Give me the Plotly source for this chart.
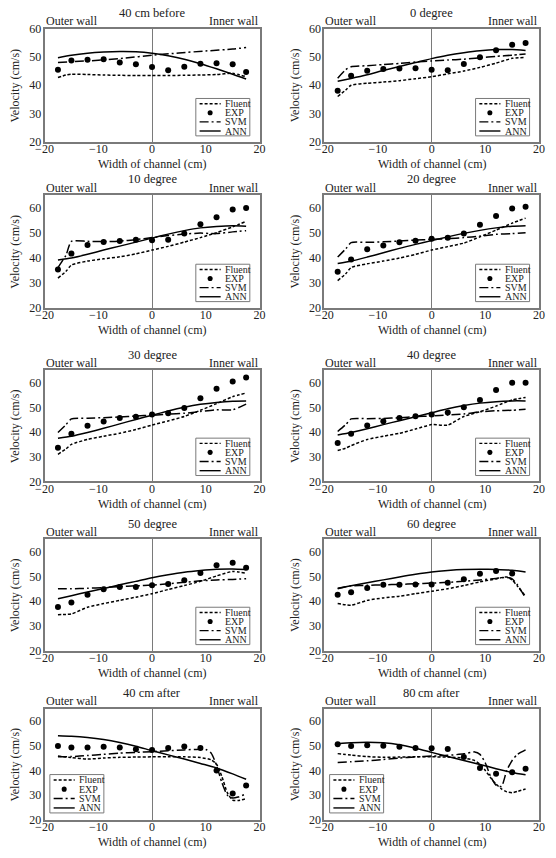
import plotly.graph_objects as go

# ---------------- data ----------------
TITLES = ["40 cm before", "0 degree", "10 degree", "20 degree", "30 degree",
          "40 degree", "50 degree", "60 degree", "40 cm after", "80\u2009cm after"]
X_TICKS = [-20, -10, 0, 10, 20]
Y_TICKS = [20, 30, 40, 50, 60]
Y_MAX = [60, 60, 65, 65, 65, 65, 65, 65, 65, 65]

EXP_X = [-17.5, -15, -12, -9, -6, -3, 0, 3, 6, 9, 12, 15, 17.5]
EXP_P1 = [45.5, 48.7, 49.0, 49.2, 48.0, 47.4, 46.4, 45.3, 46.5, 47.6, 47.8, 47.4, 44.7]
EXP_P2 = [38.0, 43.3, 45.1, 45.7, 45.9, 46.0, 45.5, 45.3, 47.5, 49.9, 52.4, 54.3, 54.9]
EXP_P3 = [35.2, 41.6, 45.0, 46.2, 46.6, 47.1, 46.9, 47.1, 49.6, 53.4, 56.2, 59.3, 59.9]
EXP_P4 = [34.3, 39.2, 43.3, 44.8, 46.1, 46.7, 47.5, 47.9, 49.6, 53.2, 56.7, 59.7, 60.4]
EXP_P5 = [33.6, 39.3, 42.5, 44.3, 45.7, 46.2, 47.1, 47.6, 49.7, 53.7, 57.5, 60.5, 62.1]
EXP_P6 = [35.6, 39.3, 42.6, 44.4, 45.7, 46.4, 47.1, 47.9, 50.0, 53.0, 57.0, 59.9, 59.9]
EXP_P7 = [37.6, 39.4, 42.6, 44.8, 45.7, 45.7, 46.4, 46.9, 48.5, 51.4, 54.5, 55.5, 53.5]
EXP_P8 = [42.6, 43.6, 45.3, 46.6, 46.6, 46.7, 46.7, 47.4, 48.9, 51.1, 52.2, 51.2, 35.9]
EXP_P9 = [49.9, 49.3, 49.3, 49.6, 49.3, 48.6, 48.3, 49.1, 49.7, 49.1, 40.0, 30.7, 33.9]
EXP_P10 = [50.6, 49.9, 50.2, 50.0, 49.6, 49.1, 49.0, 48.7, 45.4, 41.0, 38.6, 39.3, 40.7]

LX_A = [-17.5, -16, -15, -12, -9, -6, -3, 0, 3, 6, 9, 12, 15, 17.5]
LX_B = [-17.5, -15, -12, -9, -6, -3, 0, 3, 6, 9, 12, 15, 17.5]

FLU_P1 = [42.7, 43.6, 43.9, 43.8, 43.6, 43.5, 43.4, 43.4, 43.4, 43.5, 43.6, 43.8, 44.2, 43.0]
SVM_X_P1 = [-17.5, -15, -10, -5, 0, 5, 10, 15, 17.5]
SVM_P1 = [48.0, 48.3, 48.8, 49.6, 50.6, 51.4, 52.1, 52.8, 53.3]
ANN_P1 = [49.7, 50.6, 51.3, 51.7, 51.9, 51.8, 51.3, 50.4, 49.2, 47.6, 45.8, 43.9, 42.2]

FLU_P2 = [36.0, 38.3, 40.0, 40.7, 41.1, 41.6, 42.3, 43.0, 44.0, 45.0, 46.3, 47.8, 49.5, 49.8]
SVM_P2 = [42.5, 45.5, 46.5, 46.9, 47.3, 47.7, 48.2, 48.6, 48.9, 49.2, 49.7, 50.2, 50.6, 51.0]
ANN_P2 = [41.4, 42.4, 43.7, 45.2, 46.6, 48.0, 49.4, 50.6, 51.5, 52.2, 52.6, 52.6, 52.3]

FLU_P3 = [31.8, 34.5, 37.0, 38.6, 39.5, 40.3, 41.5, 43.0, 44.5, 46.2, 48.0, 50.0, 52.3, 54.5]
SVM_P3 = [36.0, 41.0, 46.5, 46.5, 46.4, 46.6, 47.2, 48.0, 48.8, 49.4, 49.8, 49.6, 50.3, 50.8]
ANN_P3 = [39.0, 39.8, 41.3, 43.0, 44.6, 46.2, 47.8, 49.4, 50.8, 51.9, 52.5, 52.8, 52.6]

FLU_P4 = [30.8, 33.5, 36.0, 37.5, 38.6, 39.8, 41.3, 43.0, 44.4, 45.8, 48.3, 51.0, 53.8, 55.8]
SVM_P4 = [40.2, 43.5, 46.0, 46.1, 46.3, 46.6, 47.0, 47.3, 47.6, 48.0, 48.6, 49.3, 49.6, 50.0]
ANN_P4 = [37.6, 38.6, 40.2, 41.9, 43.7, 45.3, 46.8, 48.3, 49.7, 50.9, 51.9, 52.6, 52.8]

FLU_P5 = [31.0, 33.2, 35.0, 37.0, 38.3, 39.5, 41.0, 42.8, 44.5, 46.3, 48.8, 51.5, 54.3, 55.8]
SVM_P5 = [39.8, 43.0, 45.3, 45.6, 45.8, 46.1, 46.5, 46.8, 47.2, 47.6, 48.3, 49.0, 49.0, 51.3]
ANN_P5 = [37.5, 38.3, 39.8, 41.5, 43.3, 45.1, 46.8, 48.5, 50.0, 51.2, 52.0, 52.5, 52.6]

FLU_P6 = [32.5, 33.5, 34.5, 37.0, 38.3, 39.5, 41.2, 43.0, 42.8, 46.3, 48.2, 50.5, 53.0, 54.0]
SVM_P6 = [40.2, 43.0, 45.3, 45.4, 45.5, 45.8, 46.2, 46.5, 46.9, 47.3, 48.2, 48.6, 48.8, 49.2]
ANN_P6 = [38.8, 39.8, 41.3, 43.0, 44.6, 46.2, 47.8, 49.4, 50.7, 51.7, 52.3, 52.6, 52.6]

FLU_P7 = [34.5, 34.6, 34.8, 37.5, 39.0, 40.3, 41.6, 43.0, 44.7, 46.3, 48.0, 50.2, 52.0, 51.3]
SVM_P7 = [45.0, 45.0, 45.0, 45.2, 45.5, 45.9, 46.2, 46.5, 47.0, 47.6, 48.2, 48.6, 48.8, 49.1]
ANN_P7 = [41.0, 42.2, 43.7, 45.1, 46.6, 48.0, 49.5, 50.7, 51.7, 52.4, 52.9, 53.0, 52.8]

LX_P8 = [-17.5, -16, -15, -12, -9, -6, -3, 0, 3, 6, 9, 12, 14, 15, 16, 17.5]
FLU_P8 = [39.0, 38.5, 38.3, 40.3, 41.3, 42.0, 43.0, 44.0, 45.0, 46.3, 47.8, 49.0, 49.8, 48.5, 46.0, 42.0]
SVM_P8 = [45.0, 45.8, 46.2, 46.4, 46.6, 46.8, 47.0, 47.3, 47.6, 48.0, 48.6, 49.2, 49.6, 49.0, 46.5, 41.3]
ANN_P8 = [45.2, 46.2, 47.4, 48.6, 49.8, 50.9, 51.8, 52.4, 52.8, 52.9, 52.8, 52.5, 51.8]

FLU_X_P9 = [-17.5, -15, -12, -9, -6, -3, 0, 3, 6, 9, 11, 12, 13, 14, 15, 16, 17.5]
FLU_P9 = [45.8, 45.2, 44.6, 45.0, 45.3, 45.4, 45.5, 45.5, 45.5, 45.2, 44.3, 42.5, 37.5, 31.0, 28.0, 27.8, 28.6]
SVM_X_P9 = [-17.5, -15, -12, -9, -6, -3, 0, 3, 6, 9, 10, 11, 12, 13, 14, 15, 16, 17.5]
SVM_P9 = [45.5, 45.6, 46.0, 46.5, 47.0, 47.3, 47.6, 48.0, 48.3, 48.6, 48.5, 47.0, 42.0, 35.0, 30.0, 28.8, 29.2, 30.5]
ANN_P9 = [54.0, 53.8, 53.3, 52.5, 51.3, 49.8, 48.0, 46.3, 44.6, 42.8, 41.0, 38.6, 36.4]

LX_P10 = [-17.5, -15, -12, -9, -6, -3, 0, 3, 6, 8, 9, 10, 11, 12, 13, 14, 15, 16, 17.5]
FLU_P10 = [46.8, 46.2, 45.6, 45.3, 45.4, 45.5, 45.5, 45.4, 45.0, 44.0, 42.5, 40.0, 37.0, 34.5, 32.5, 31.3, 31.0, 31.5, 32.5]
SVM_P10 = [43.2, 43.5, 43.9, 44.4, 45.0, 45.5, 45.8, 46.1, 46.7, 47.5, 46.5, 43.0, 37.5, 34.0, 33.5, 40.0, 44.0, 46.5, 48.3]
ANN_P10 = [50.8, 51.2, 51.4, 51.2, 50.4, 49.0, 47.3, 45.6, 44.0, 42.4, 40.7, 39.2, 38.2]

# ---------------- layout geometry ----------------
W, H = 556, 858
COL_X = [(36.5, 257.5), (324.0, 544.7)]
ROW_Y = [(22.0, 137.0), (191.3, 305.5), (369.3, 482.3), (541.2, 654.2), (713.3, 826.3)]

panels = [
    (TITLES[0], EXP_P1, LX_A, FLU_P1, SVM_X_P1, SVM_P1, LX_B, ANN_P1),
    (TITLES[1], EXP_P2, LX_A, FLU_P2, LX_A, SVM_P2, LX_B, ANN_P2),
    (TITLES[2], EXP_P3, LX_A, FLU_P3, LX_A, SVM_P3, LX_B, ANN_P3),
    (TITLES[3], EXP_P4, LX_A, FLU_P4, LX_A, SVM_P4, LX_B, ANN_P4),
    (TITLES[4], EXP_P5, LX_A, FLU_P5, LX_A, SVM_P5, LX_B, ANN_P5),
    (TITLES[5], EXP_P6, LX_A, FLU_P6, LX_A, SVM_P6, LX_B, ANN_P6),
    (TITLES[6], EXP_P7, LX_A, FLU_P7, LX_A, SVM_P7, LX_B, ANN_P7),
    (TITLES[7], EXP_P8, LX_P8, FLU_P8, LX_P8, SVM_P8, LX_B, ANN_P8),
    (TITLES[8], EXP_P9, FLU_X_P9, FLU_P9, SVM_X_P9, SVM_P9, LX_B, ANN_P9),
    (TITLES[9], EXP_P10, LX_P10, FLU_P10, LX_P10, SVM_P10, LX_B, ANN_P10),
]

FONT = "Liberation Serif"
TXT = "#222222"
FRAME = "#7a7a7a"
FLU_DASH = "3px,2px"
SVM_DASH = "9px,3px,2px,3px"
LW = 1.5


def px(x):
    return x / W


def py(y):
    return 1 - y / H


def txt(text, x, y, xa="center", ya="middle", size=12, angle=0):
    return dict(text=text, x=px(x), y=py(y), xref="paper", yref="paper", showarrow=False,
                xanchor=xa, yanchor=ya, textangle=angle, borderpad=0,
                font=dict(family=FONT, size=size, color=TXT))


fig = go.Figure()
shapes, annots = [], []

for i, (title, exp, fx, fy, sx, sy, ax_, ay) in enumerate(panels):
    n = i + 1
    sfx = "" if n == 1 else str(n)
    xa, ya = "x" + sfx, "y" + sfx
    col, row = i % 2, i // 2
    x0p, x1p = COL_X[col]
    y0p, y1p = ROW_Y[row]
    pw, ph = x1p - x0p, y1p - y0p

    common = dict(xaxis=xa, yaxis=ya, showlegend=False, hoverinfo="skip")
    fig.add_trace(go.Scatter(x=fx, y=fy, mode="lines",
                             line=dict(color="black", width=LW, dash=FLU_DASH, shape="spline", smoothing=0.6), **common))
    fig.add_trace(go.Scatter(x=sx, y=sy, mode="lines",
                             line=dict(color="black", width=LW, dash=SVM_DASH, shape="spline", smoothing=0.6), **common))
    fig.add_trace(go.Scatter(x=ax_, y=ay, mode="lines",
                             line=dict(color="black", width=LW, shape="spline", smoothing=0.6), **common))
    fig.add_trace(go.Scatter(x=EXP_X, y=exp, mode="markers",
                             marker=dict(color="black", size=6), **common))

    axis_common = dict(showgrid=False, showline=True, mirror=True, linecolor=FRAME, linewidth=1.5,
                       ticks="", tickfont=dict(family=FONT, size=12, color=TXT), fixedrange=True)
    fig.layout["xaxis" + sfx] = dict(domain=[px(x0p), px(x1p)], anchor=ya, range=[-20, 20],
                                     tickvals=X_TICKS, zeroline=True, zerolinecolor=FRAME,
                                     zerolinewidth=1.2, ticklabelstandoff=-5, **axis_common)
    fig.layout["yaxis" + sfx] = dict(domain=[py(y1p), py(y0p)], anchor=xa,
                                     range=[20, Y_MAX[i]], tickvals=Y_TICKS, zeroline=False,
                                     ticklabelstandoff=-1, **axis_common)

    # titles / labels
    annots.append(txt(title, (x0p + x1p) / 2, y0p - 16, size=12.5))
    annots.append(txt("Outer wall", x0p, y0p - 7.5, xa="left"))
    annots.append(txt("Inner wall", x1p, y0p - 7.5, xa="right"))
    annots.append(txt("Width of channel (cm)", (x0p + x1p) / 2, y1p + 23))
    annots.append(txt("Velocity (cm/s)", x0p - 30, (y0p + y1p) / 2, angle=-90))

    # legend box (drawn manually, compact like reference)
    if n >= 9:
        lx0, lx1 = x0p + 5.5, x0p + 61
        ly0, ly1 = y1p - 46, y1p - 7
    else:
        lx0, lx1 = x0p + 155.5, x0p + 211
        ly0, ly1 = y1p - 44, y1p - 6
    lw_, lh_ = lx1 - lx0, ly1 - ly0
    shapes.append(dict(type="rect", xref="paper", yref="paper", x0=px(lx0), x1=px(lx1),
                       y0=py(ly1), y1=py(ly0),
                       line=dict(color=FRAME, width=1), fillcolor="white", layer="above"))
    labels = ["Fluent", "EXP", "SVM", "ANN"]
    fracs = [0.14, 0.38, 0.625, 0.87]
    sx0, sx1 = lx0 + 0.07 * lw_, lx0 + 0.46 * lw_
    for k, (lab, fr) in enumerate(zip(labels, fracs)):
        yy = ly0 + fr * lh_
        if k == 1:
            cx = (sx0 + sx1) / 2
            shapes.append(dict(type="circle", xref="paper", yref="paper",
                               x0=px(cx - 2.6), x1=px(cx + 2.6), y0=py(yy + 2.6), y1=py(yy - 2.6),
                               fillcolor="black", line=dict(color="black", width=0), layer="above"))
        else:
            dash = {0: FLU_DASH, 2: SVM_DASH, 3: "solid"}[k]
            shapes.append(dict(type="line", xref="paper", yref="paper", x0=px(sx0), x1=px(sx1),
                               y0=py(yy), y1=py(yy),
                               line=dict(color="black", width=1.4, dash=dash), layer="above"))
        annots.append(txt(lab, lx0 + 0.52 * lw_, yy, xa="left", size=10))

fig.update_layout(width=W, height=H, margin=dict(l=0, r=0, t=0, b=0),
                  paper_bgcolor="white", plot_bgcolor="white",
                  shapes=shapes, annotations=annots, showlegend=False)

fig.write_html("out.html")
